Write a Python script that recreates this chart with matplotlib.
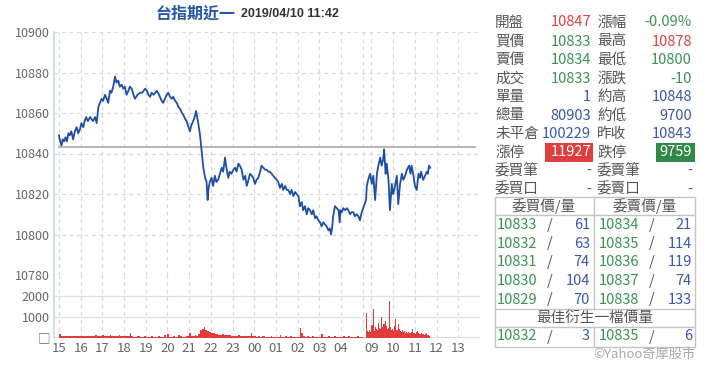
import matplotlib
matplotlib.use("Agg")
import matplotlib.pyplot as plt

plt.rcParams['font.family'] = ['Noto Sans CJK TC', 'DejaVu Sans']

# ---- price data (time, index level) ----
price_times = [
    "15:00", "15:03", "15:07", "15:10", "15:14", "15:18", "15:22", "15:26", "15:30", "15:34", "15:39", "15:44",
    "15:49", "15:53", "15:58", "16:02", "16:07", "16:11", "16:15", "16:20", "16:26", "16:30", "16:34", "16:40",
    "16:44", "16:49", "16:53", "16:58", "17:02", "17:07", "17:12", "17:16", "17:21", "17:25", "17:30", "17:35",
    "17:39", "17:44", "17:48", "17:53", "17:58", "18:02", "18:07", "18:12", "18:16", "18:21", "18:26", "18:30",
    "18:37", "18:44", "18:50", "18:58", "19:03", "19:07", "19:12", "19:16", "19:22", "19:30", "19:34", "19:39",
    "19:44", "19:48", "19:53", "19:58", "20:02", "20:07", "20:12", "20:16", "20:21", "20:26", "20:30", "20:35",
    "20:40", "20:44", "20:49", "20:53", "20:58", "21:02", "21:06", "21:11", "21:15", "21:19", "21:22", "21:25",
    "21:30", "21:35", "21:39", "21:44", "21:48", "21:51", "21:53", "21:57", "22:02", "22:06", "22:11", "22:15",
    "22:20", "22:25", "22:30", "22:34", "22:39", "22:43", "22:48", "22:52", "22:57", "23:02", "23:07", "23:11",
    "23:16", "23:20", "23:25", "23:30", "23:35", "23:39", "23:44", "23:48", "23:53", "23:57", "00:02", "00:06",
    "00:11", "00:16", "00:20", "00:25", "00:30", "00:34", "00:39", "00:43", "00:48", "00:52", "00:57", "01:02",
    "01:06", "01:11", "01:16", "01:20", "01:25", "01:30", "01:34", "01:39", "01:43", "01:48", "01:53", "01:57",
    "02:02", "02:06", "02:11", "02:15", "02:20", "02:25", "02:29", "02:34", "02:39", "02:43", "02:48", "02:52",
    "02:57", "03:02", "03:06", "03:11", "03:15", "03:20", "03:25", "03:29", "03:32", "03:35", "03:38", "03:43",
    "03:48", "03:53", "03:56", "03:58", "04:02", "04:06", "04:11", "04:16", "04:20", "04:25", "04:29", "04:34",
    "04:38", "04:43", "04:48", "04:52", "04:57",
    "08:45", "08:47", "08:51", "08:56", "09:01", "09:05", "09:10", "09:15", "09:19", "09:24", "09:28", "09:32",
    "09:35", "09:39", "09:42", "09:47", "09:51", "09:56", "10:00", "10:03", "10:07", "10:10", "10:14", "10:19",
    "10:24", "10:28", "10:33", "10:38", "10:44", "10:48", "10:51", "10:56", "11:00", "11:05", "11:10", "11:14",
    "11:17", "11:23", "11:28", "11:33", "11:36", "11:39", "11:42",
]
price_values = [
    10849, 10846, 10844, 10847, 10846, 10848, 10846, 10850, 10849, 10851, 10847, 10851,
    10853, 10850, 10852, 10855, 10853, 10856, 10858, 10856, 10858, 10857, 10856, 10858,
    10855, 10863, 10865, 10867, 10866, 10869, 10867, 10865, 10871, 10870, 10873, 10878,
    10875, 10876, 10873, 10874, 10872, 10873, 10869, 10871, 10873, 10872, 10869, 10867,
    10869, 10870, 10870, 10872, 10871, 10869, 10868, 10870, 10869, 10871, 10870, 10868,
    10866, 10865, 10867, 10869, 10870, 10868, 10867, 10868, 10866, 10865, 10863, 10862,
    10860, 10859, 10857, 10856, 10853, 10851, 10854, 10856, 10858, 10861, 10858, 10855,
    10849, 10840, 10833, 10828, 10826, 10817, 10822, 10826, 10828, 10824, 10829, 10826,
    10827, 10830, 10833, 10831, 10838, 10833, 10828, 10831, 10830, 10832, 10833, 10831,
    10835, 10834, 10832, 10827, 10829, 10824, 10827, 10830, 10829, 10828, 10825, 10827,
    10828, 10831, 10834, 10833, 10832, 10832, 10831, 10831, 10830, 10829, 10828, 10827,
    10826, 10823, 10825, 10822, 10824, 10822, 10822, 10820, 10822, 10819, 10821, 10820,
    10819, 10814, 10816, 10812, 10814, 10810, 10813, 10812, 10810, 10812, 10808, 10809,
    10807, 10806, 10804, 10806, 10805, 10804, 10802, 10803, 10800, 10803, 10809, 10814,
    10813, 10812, 10806, 10812, 10811, 10813, 10812, 10813, 10812, 10810, 10811, 10811,
    10809, 10810, 10809, 10807, 10811,
    10817, 10824, 10827, 10830, 10825, 10829, 10817, 10830, 10834, 10838, 10834, 10837,
    10842, 10830, 10835, 10827, 10812, 10825, 10820, 10822, 10826, 10829, 10815, 10825,
    10830, 10827, 10829, 10832, 10834, 10830, 10834, 10829, 10824, 10822, 10830, 10828,
    10831, 10827, 10829, 10831, 10830, 10834, 10833,
]
prev_close = 10843

# ---- volume: night session in 5-minute buckets (one row per hour) ----
night_vol = [
    180, 60, 50, 70, 60, 50, 80, 60, 90, 50, 60, 70,       # 15
    60, 90, 50, 60, 50, 80, 50, 60, 110, 50, 60, 70,       # 16
    120, 60, 90, 60, 100, 70, 60, 90, 60, 110, 80, 60,     # 17
    60, 80, 60, 230, 50, 40, 40, 50, 60, 40, 40, 50,       # 18
    40, 30, 40, 50, 40, 30, 40, 90, 40, 30, 140, 40,       # 19
    150, 40, 30, 50, 40, 40, 110, 50, 40, 40, 60, 50,      # 20
    200, 60, 80, 140, 60, 160, 380, 420, 520, 350, 300, 260,  # 21
    220, 200, 180, 150, 120, 140, 170, 110, 130, 100, 120, 90,  # 22
    80, 90, 70, 120, 60, 70, 80, 60, 90, 70, 230, 60,      # 23
    50, 40, 60, 40, 50, 90, 40, 30, 40, 50, 30, 40,        # 00
    40, 30, 120, 40, 30, 50, 40, 30, 80, 30, 40, 30,       # 01
    40, 460, 220, 50, 40, 90, 40, 30, 50, 40, 30, 40,      # 02
    40, 160, 40, 30, 40, 50, 30, 40, 80, 30, 40, 30,       # 03
    40, 90, 30, 40, 60, 30, 40, 30, 40, 50, 30, 40,        # 04
]
# day session from 08:45 in 3-minute buckets
day_vol = [
    1180, 300, 250, 350, 280, 600, 1390, 300, 500, 400,
    350, 700, 450, 400, 1000, 500, 650, 800, 550, 400,
    450, 1750, 500, 350, 400, 300, 550, 900, 350, 650,
    400, 300, 250, 350, 250, 300, 220, 250, 200, 280,
    200, 250, 420, 220, 200, 180, 250, 300, 200, 150,
    180, 200, 150, 120, 150, 220, 130, 100, 60,
]

tick_labels = ["15", "16", "17", "18", "19", "20", "21", "22", "23", "00", "01", "02", "03", "04",
               "09", "10", "11", "12", "13"]


def xpos(h, m=0):
    # night session 15:00-05:00 on 0..14, day session after a short gap
    t = h + m / 60.0
    if h >= 15:
        return t - 15
    if t <= 5:
        return t + 9
    return 14.15 + (t - 8.75)


def tpos(s):
    h, m = s.split(":")
    return xpos(int(h), int(m))


px = [tpos(t) for t in price_times]
night_x = [i * 5 / 60.0 + 2.5 / 60.0 for i in range(len(night_vol))]
day_x = [xpos(8, 45) + i * 3 / 60.0 + 1.5 / 60.0 for i in range(len(day_vol))]

tick_pos = [xpos(int(s), 0) for s in tick_labels]
grid_pos = tick_pos + [xpos(5, 0)]

W, H = 720, 380
fig = plt.figure(figsize=(W / 100, H / 100), dpi=100)


def box(l, t, r, b):
    return [l / W, 1 - b / H, (r - l) / W, (b - t) / H]


x_lo, x_hi = -0.23, 19.4
grid_c = "#d8d8d8"
lab_c = "#666666"

# price panel
ax = fig.add_axes(box(54, 32, 480, 275))
ax.plot(px, price_values, color="#1f4ea6", lw=1.3, zorder=3)
ax.plot([xpos(15), xpos(13, 45)], [prev_close, prev_close], color="#b4b4b4", lw=1.4, zorder=2)
ax.set_xlim(x_lo, x_hi)
ax.set_ylim(10780, 10900)
ax.set_yticks([10780, 10800, 10820, 10840, 10860, 10880, 10900])
for g in grid_pos:
    ax.axvline(g, color=grid_c, lw=0.9, ls=(0, (3, 3)), zorder=1)
for v in [10780, 10800, 10820, 10840, 10860, 10880, 10900]:
    ax.axhline(v, color=grid_c, lw=0.9, ls=(0, (3, 3)), zorder=1)
ax.set_xticks([])
ax.tick_params(axis="y", length=0, pad=3, labelsize=9, labelcolor=lab_c)
for s in ["top", "right", "bottom"]:
    ax.spines[s].set_visible(False)
ax.spines["left"].set_color("#c9d7e8")
ax.spines["left"].set_linewidth(1.2)

# volume panel
vx = fig.add_axes(box(54, 275, 480, 337.5))
vx.bar(night_x, night_vol, width=5 / 60.0, color="#e23b3b", linewidth=0, zorder=3)
vx.bar(day_x, day_vol, width=3 / 60.0, color="#e23b3b", linewidth=0, zorder=3)
vx.set_xlim(x_lo, x_hi)
vx.set_ylim(0, 3000)
for g in grid_pos:
    vx.axvline(g, color=grid_c, lw=0.9, ls=(0, (3, 3)), zorder=1)
for v in [1000, 2000]:
    vx.axhline(v, color="#dde2e8", lw=1.0, zorder=1)
vx.axhline(0, color="#c9d7e8", lw=1.2, zorder=2)
vx.set_yticks([0, 1000, 2000])
vx.set_yticklabels(["□", "1000", "2000"])
vx.set_xticks(tick_pos)
vx.set_xticklabels(tick_labels)
vx.tick_params(axis="y", length=0, pad=3, labelsize=9, labelcolor=lab_c)
vx.tick_params(axis="x", length=0, pad=3, labelsize=9.5, labelcolor=lab_c)
for s in ["top", "right", "bottom"]:
    vx.spines[s].set_visible(False)
vx.spines["left"].set_color("#c9d7e8")
vx.spines["left"].set_linewidth(1.2)

# title
fig.text(236 / W, 1 - 14 / H, "台指期近一", color="#2757a8", fontsize=11.5, fontweight="bold",
         ha="right", va="center")
fig.text(241 / W, 1 - 14 / H, "2019/04/10 11:42", color="#333333", fontsize=9, fontweight="bold",
         ha="left", va="center", family=["Liberation Sans", "DejaVu Sans"])

# quote table on the right
ov = fig.add_axes([0, 0, 1, 1])
ov.set_xlim(0, W)
ov.set_ylim(H, 0)
ov.axis("off")
ov.patch.set_alpha(0)

red, green, blue, gray = "#e2403f", "#3a9450", "#3a58ad", "#555555"
fs = 10.5

left_labels = ["開盤", "買價", "賣價", "成交", "單量", "總量", "未平倉", "漲停", "委買筆", "委買口"]
left_values = ["10847", "10833", "10834", "10833", "1", "80903", "100229", "11927", "-", "-"]
left_colors = [red, green, green, green, blue, blue, blue, "white", blue, blue]
right_labels = ["漲幅", "最高", "最低", "漲跌", "約高", "約低", "昨收", "跌停", "委賣筆", "委賣口"]
right_values = ["-0.09%", "10878", "10800", "-10", "10848", "9700", "10843", "9759", "-", "-"]
right_colors = [green, red, green, green, blue, blue, blue, "white", blue, blue]
row_y = [22.5, 41.5, 60, 79, 97, 115.5, 134, 152.5, 171, 189.5]

ov.add_patch(plt.Rectangle((545, 143), 48, 19, color="#e03e3e", lw=0))
ov.add_patch(plt.Rectangle((656, 143), 39, 19, color="#2e8a46", lw=0))
for i, y in enumerate(row_y):
    ov.text(495, y, left_labels[i], color=gray, fontsize=fs, va="center", ha="left")
    ov.text(591, y, left_values[i], color=left_colors[i], fontsize=fs, va="center", ha="right")
    ov.text(597, y, right_labels[i], color=gray, fontsize=fs, va="center", ha="left")
    ov.text(692, y, right_values[i], color=right_colors[i], fontsize=fs, va="center", ha="right")

# order book
bid_px = ["10833", "10832", "10831", "10830", "10829"]
bid_qty = ["61", "63", "74", "104", "70"]
ask_px = ["10834", "10835", "10836", "10837", "10838"]
ask_qty = ["21", "114", "119", "74", "133"]
best_bid = ("10832", "3")
best_ask = ("10835", "6")

lc = "#c4c4c4"
ov.add_patch(plt.Rectangle((495, 197), 200, 150, fill=False, ec=lc, lw=1))
ov.plot([495, 695], [215, 215], color=lc, lw=1)
ov.plot([495, 695], [309, 309], color=lc, lw=1)
ov.plot([495, 695], [327, 327], color=lc, lw=1)
ov.plot([594, 594], [197, 309], color=lc, lw=1)
ov.plot([594, 594], [327, 347], color=lc, lw=1)
ov.text(544, 206.5, "委買價/量", color=gray, fontsize=fs, ha="center", va="center")
ov.text(645, 206.5, "委賣價/量", color=gray, fontsize=fs, ha="center", va="center")
book_y = [225, 243.5, 262, 281, 299.5]
for i, y in enumerate(book_y):
    ov.text(497, y, bid_px[i], color=green, fontsize=fs, ha="left", va="center")
    ov.text(547, y, "/", color=gray, fontsize=fs, ha="left", va="center")
    ov.text(590, y, bid_qty[i], color=blue, fontsize=fs, ha="right", va="center")
    ov.text(599, y, ask_px[i], color=green, fontsize=fs, ha="left", va="center")
    ov.text(649, y, "/", color=gray, fontsize=fs, ha="left", va="center")
    ov.text(692, y, ask_qty[i], color=blue, fontsize=fs, ha="right", va="center")
ov.text(595, 318, "最佳衍生一檔價量", color=gray, fontsize=fs, ha="center", va="center")
ov.text(497, 336.5, best_bid[0], color=green, fontsize=fs, ha="left", va="center")
ov.text(547, 336.5, "/", color=gray, fontsize=fs, ha="left", va="center")
ov.text(590, 336.5, best_bid[1], color=blue, fontsize=fs, ha="right", va="center")
ov.text(599, 336.5, best_ask[0], color=green, fontsize=fs, ha="left", va="center")
ov.text(649, 336.5, "/", color=gray, fontsize=fs, ha="left", va="center")
ov.text(692, 336.5, best_ask[1], color=blue, fontsize=fs, ha="right", va="center")
ov.text(695, 354, "©Yahoo奇摩股市", color="#aaaaaa", fontsize=9.5, ha="right", va="center")

fig.savefig("out.png", dpi=100)
